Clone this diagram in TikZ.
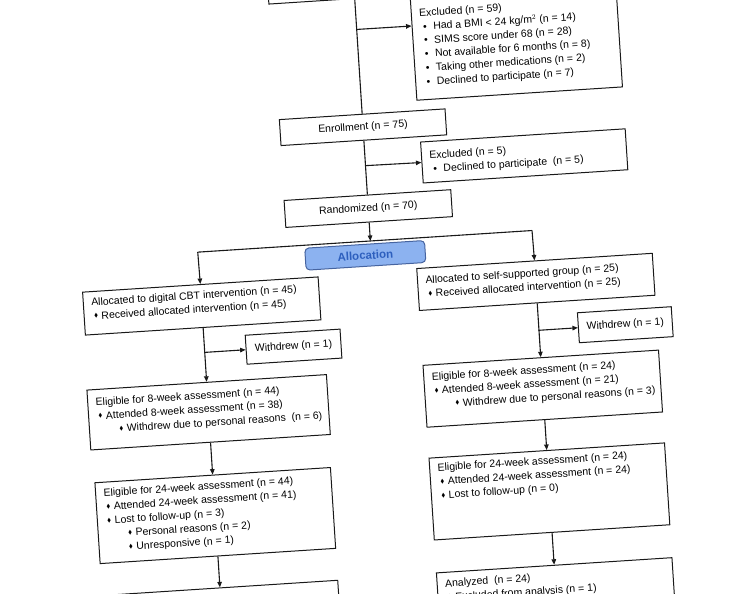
\documentclass[tikz,border=0pt]{standalone}
\usepackage{fontspec}
\setmainfont{Liberation Sans}
\usepackage{amssymb}
\usepackage{graphicx}
\usetikzlibrary{arrows.meta, calc}
\definecolor{allocfill}{RGB}{140,178,240}
\definecolor{allocdraw}{RGB}{70,100,160}
\definecolor{alloctext}{RGB}{45,95,190}
\definecolor{edge}{RGB}{25,25,25}
\newcommand{\dotit}{\hspace*{3pt}\textbullet\hspace{6.5pt}}
\newcommand{\diait}{\hspace*{2pt}\raisebox{0.3ex}{\scalebox{0.55}{$\blacklozenge$}}\hspace{3.5pt}}
\newcommand{\subdiait}{\hspace*{20pt}\diait}
\newcommand{\boxtext}[4]{\parbox[t][#1][t]{#2}{\vspace*{#3}\begin{tabular}[t]{@{}l@{}}#4\end{tabular}}}

\begin{document}
\begin{tikzpicture}[x=1pt, y=-1pt,
    box/.style={draw=edge, line width=1pt, inner xsep=8pt, inner ysep=0pt,
                anchor=north west, font=\fontsize{10.5}{13.8}\selectfont},
    sbox/.style={draw=edge, line width=1pt, inner sep=0pt,
                 font=\fontsize{10.5}{13.8}\selectfont},
    alloc/.style={draw=allocdraw, fill=allocfill, line width=1pt, rounded corners=4pt,
                  inner sep=0pt, minimum width=120pt, minimum height=22pt,
                  text=alloctext, font=\fontsize{11.5}{13}\selectfont\bfseries},
    link/.style={draw=edge, line width=1.1pt},
    arr/.style={link, -{Triangle[length=5.5pt, width=4.5pt]}}]
    % page
    \useasboundingbox (0,0) rectangle (745,594);
    \clip (0,0) rectangle (745,594);
    \begin{scope}[rotate around={3.7:(372,297)}, transform shape]
    % enrollment part
    \node[sbox, minimum width=172pt, minimum height=40pt] (screen) at (374,-22) {};
    \node[box] (excl59) at (429,0) {\boxtext{103pt}{190pt}{10pt}{%
        Excluded (n = 59)\\
        \dotit Had a BMI < 24 kg/$\mathrm{m}^2$ (n = 14)\\
        \dotit SIMS score under 68 (n = 28)\\
        \dotit Not available for 6 months (n = 8)\\
        \dotit Taking other medications (n = 2)\\
        \dotit Declined to participate (n = 7)}};
    \node[sbox, minimum width=166pt, minimum height=26pt] (enrol) at (374,127) {Enrollment (n = 75)};
    \node[box] (excl5) at (430,145) {\boxtext{41pt}{189pt}{7.7pt}{%
        Excluded (n = 5)\\
        \dotit Declined to participate\ \ (n = 5)}};
    \node[sbox, minimum width=167pt, minimum height=27pt] (rand) at (374,208.5) {Randomized (n = 70)};
    \node[alloc] (allocation) at (368,255) {Allocation};
    % digital CBT arm
    \node[box] (allocL) at (83,273) {\boxtext{43pt}{220pt}{4.6pt}{%
        Allocated to digital CBT intervention (n = 45)\\
        \diait Received allocated intervention (n = 45)}};
    \node[sbox, minimum width=95pt, minimum height=29pt] (wdL) at (290.5,341.5) {Withdrew (n = 1)};
    \node[box] (elig8L) at (81,371) {\boxtext{60pt}{224pt}{6.7pt}{%
        Eligible for 8-week assessment (n = 44)\\
        \diait Attended 8-week assessment (n = 38)\\
        \subdiait Withdrew due to personal reasons\ \ (n = 6)}};
    \node[box] (elig24L) at (83,464) {\boxtext{81pt}{220pt}{4.6pt}{%
        Eligible for 24-week assessment (n = 44)\\
        \diait Attended 24-week assessment (n = 41)\\
        \diait Lost to follow-up (n = 3)\\
        \subdiait Personal reasons (n = 2)\\
        \subdiait Unresponsive (n = 1)}};
    \node[box] (anaL) at (83,577) {\boxtext{60pt}{220pt}{5pt}{}};
    % self-supported arm
    \node[box] (allocR) at (418,271) {\boxtext{42pt}{220pt}{6pt}{%
        Allocated to self-supported group (n = 25)\\
        \diait Received allocated intervention (n = 25)}};
    \node[sbox, minimum width=94pt, minimum height=30pt] (wdR) at (623,341) {Withdrew (n = 1)};
    \node[box] (elig8R) at (418,368) {\boxtext{62pt}{220pt}{6pt}{%
        Eligible for 8-week assessment (n = 24)\\
        \diait Attended 8-week assessment (n = 21)\\
        \subdiait Withdrew due to personal reasons (n = 3)}};
    \node[box] (elig24R) at (418,461) {\boxtext{82pt}{220pt}{4pt}{%
        Eligible for 24-week assessment (n = 24)\\
        \diait Attended 24-week assessment (n = 24)\\
        \diait Lost to follow-up (n = 0)}};
    \node[box] (anaR) at (418,576) {\boxtext{60pt}{220pt}{5pt}{%
        Analyzed\ \ (n = 24)\\
        \diait Excluded from analysis (n = 1)}};
    % junctions
    \coordinate (j59) at (374,29);
    \coordinate (j5) at (374,165.5);
    \coordinate (split) at (374,241);
    \coordinate (splitL) at (201,241);
    \coordinate (splitR) at (536,241);
    \coordinate (jL) at (201,341.5);
    \coordinate (jR) at (536,341);
    % connectors
    \draw[link] (screen.south) -- (enrol.north);
    \draw[arr] (j59) -- ($(excl59.north west)!0.28!(excl59.south west)$);
    \draw[link] (enrol.south) -- (rand.north);
    \draw[arr] (j5) -- (excl5.west);
    \draw[arr] (rand.south) -- (split);
    \draw[link] (splitL) -- (splitR);
    \draw[arr] (splitL) -- (allocL.north);
    \draw[arr] (splitR) -- (allocR.north);
    \draw[arr] (allocL.south) -- (elig8L.north);
    \draw[arr] (jL) -- (wdL.west);
    \draw[arr] (elig8L.south) -- (elig24L.north);
    \draw[arr] (elig24L.south) -- (anaL.north);
    \draw[arr] (allocR.south) -- (elig8R.north);
    \draw[arr] (jR) -- (wdR.west);
    \draw[arr] (elig8R.south) -- (elig24R.north);
    \draw[arr] (elig24R.south) -- (anaR.north);
    \end{scope}
\end{tikzpicture}
\end{document}
